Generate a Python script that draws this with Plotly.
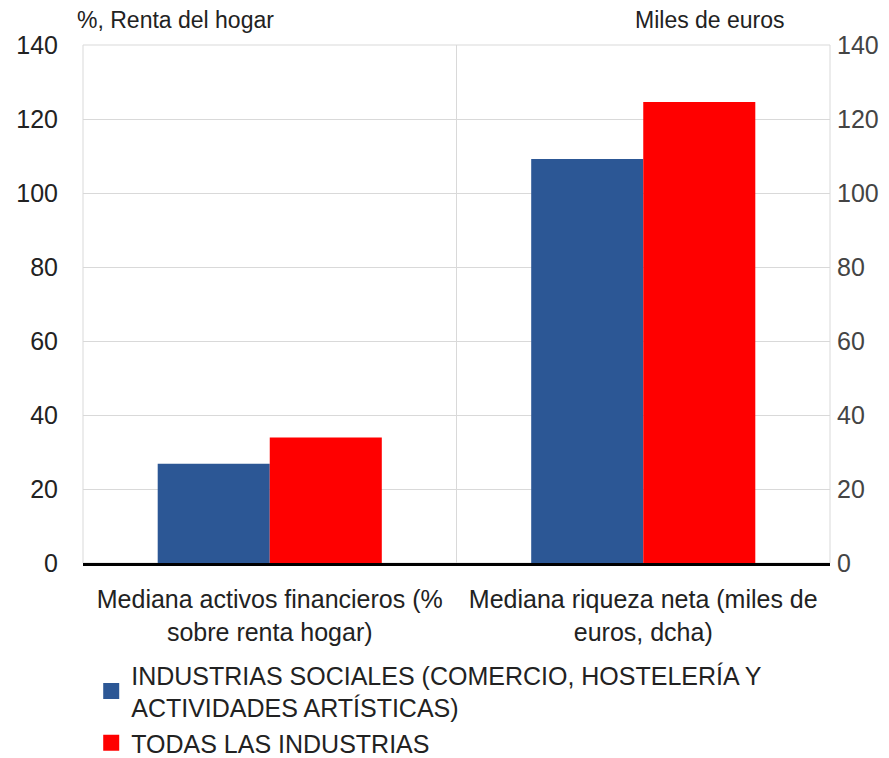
import plotly.graph_objects as go

categories = ["Mediana activos financieros (%<br>sobre renta hogar)",
              "Mediana riqueza neta (miles de<br>euros, dcha)"]
series_names = ["INDUSTRIAS SOCIALES (COMERCIO, HOSTELERÍA Y<br>ACTIVIDADES ARTÍSTICAS)",
                "TODAS LAS INDUSTRIAS"]
sociales = [26.8, 109.2]
todas = [33.9, 124.6]
y_ticks = [0, 20, 40, 60, 80, 100, 120, 140]
colors = ["#2C5795", "#FF0000"]

x_pos = [0, 1]
fig = go.Figure()
for name, vals, col in zip(series_names, [sociales, todas], colors):
    fig.add_trace(go.Bar(x=x_pos, y=vals, name=name, marker_color=col,
                         marker_line_width=0, showlegend=False))
# legend entries with larger square swatches
for name, col in zip(series_names, colors):
    fig.add_trace(go.Scatter(x=[None], y=[None], mode="markers", name=name,
                             marker=dict(symbol="square", size=18, color=col)))

# invisible trace to activate right axis
fig.add_trace(go.Scatter(x=[0], y=[0], yaxis="y2", mode="markers",
                         marker_opacity=0, showlegend=False, hoverinfo="skip"))

font = "Liberation Sans, Arial, sans-serif"
fig.update_layout(
    width=881, height=750,
    margin=dict(l=75, r=59, t=37, b=195, autoexpand=False),
    paper_bgcolor="white", plot_bgcolor="white",
    barmode="group", bargap=0.4, bargroupgap=0,
    font=dict(family=font, size=25, color="#222222"),
    xaxis=dict(tickvals=x_pos, ticktext=categories, range=[-0.5, 1.5],
               showgrid=False, showline=True, linecolor="black", linewidth=3,
               ticks="", automargin=False, ticklabelstandoff=12,
               tickfont=dict(size=25, color="#222222")),
    yaxis=dict(range=[0, 140], tickvals=y_ticks, showgrid=True,
               gridcolor="#d9d9d9", gridwidth=1, zeroline=False,
               ticks="", ticklabelstandoff=24, automargin=False,
               tickfont=dict(size=25, color="#222222")),
    yaxis2=dict(range=[0, 140], tickvals=y_ticks, overlaying="y", side="right",
                showgrid=False, zeroline=False, ticks="", ticklabelstandoff=6,
                automargin=False,
                tickfont=dict(size=25, color="#444444")),
    legend=dict(orientation="v", x=0.011, y=-0.172, xanchor="left", yanchor="top",
                font=dict(size=25, color="#222222"), tracegroupgap=0,
                itemwidth=30, bgcolor="rgba(0,0,0,0)"),
    shapes=[
        dict(type="rect", xref="paper", yref="paper", x0=0, x1=1, y0=0, y1=1,
             line=dict(color="#d9d9d9", width=1), layer="below"),
        dict(type="line", xref="x", yref="paper", x0=0.5, x1=0.5, y0=0, y1=1,
             line=dict(color="#d9d9d9", width=1), layer="below"),
    ],
    annotations=[
        dict(text="%, Renta del hogar", xref="paper", yref="paper", x=-0.011, y=1.0,
             xanchor="left", yanchor="bottom", yshift=10, showarrow=False,
             font=dict(size=23, color="#222222")),
        dict(text="Miles de euros", xref="paper", yref="paper", x=0.943, y=1.0,
             xanchor="right", yanchor="bottom", yshift=10, showarrow=False,
             font=dict(size=23, color="#222222")),
    ],
)

fig.write_html("out.html")
